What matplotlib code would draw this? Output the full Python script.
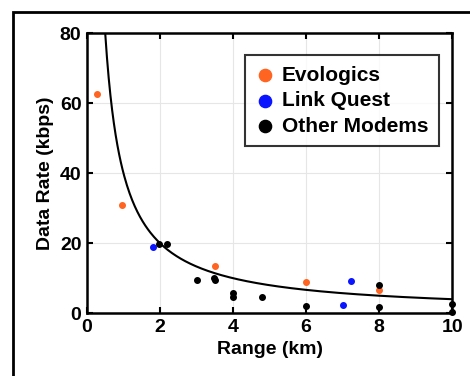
import numpy as np
import matplotlib
matplotlib.use("Agg")
import matplotlib.pyplot as plt
from matplotlib.patches import Rectangle

plt.rcParams['font.family'] = ['Liberation Sans', 'DejaVu Sans']
plt.rcParams['font.weight'] = 'bold'

# Data
evo_x = [0.28, 0.97, 3.5, 6.0, 8.0]
evo_y = [62.5, 31.0, 13.5, 9.0, 6.7]
lq_x = [1.82, 7.22, 7.0]
lq_y = [18.8, 9.2, 2.3]
oth_x = [1.98, 2.18, 3.0, 3.49, 3.5, 4.0, 4.0, 4.8, 6.0, 8.0, 8.0, 10.0, 10.0]
oth_y = [19.7, 19.9, 9.6, 10.0, 9.5, 5.8, 4.7, 4.7, 2.0, 8.0, 1.7, 2.5, 0.3]
fit_a = 40.0  # fitted curve: rate = a / range
xticks = [0, 2, 4, 6, 8, 10]
yticks = [0, 20, 40, 60, 80]

fig = plt.figure(figsize=(4.7, 3.76), dpi=100)
ax = fig.add_axes([0.185, 0.167, 0.777, 0.745])

xc = np.linspace(0.5, 10, 400)
ax.plot(xc, fit_a / xc, color='black', lw=1.5, zorder=3)

ms = 16
ax.scatter(evo_x, evo_y, s=ms, color='#ff6420', label='Evologics', zorder=4, clip_on=False)
ax.scatter(lq_x, lq_y, s=ms, color='#0a14ff', label='Link Quest', zorder=4, clip_on=False)
ax.scatter(oth_x, oth_y, s=ms, color='black', label='Other Modems', zorder=4, clip_on=False)

ax.set_xlim(0, 10)
ax.set_ylim(0, 80)
ax.set_xticks(xticks)
ax.set_yticks(yticks)
ax.tick_params(direction='in', top=True, right=True, labelsize=14, width=1.5, length=4, pad=4)
for lab in ax.get_xticklabels() + ax.get_yticklabels():
    lab.set_fontweight('bold')
ax.grid(True, color='#e6e6e6', lw=0.8)
ax.set_axisbelow(True)
for sp in ax.spines.values():
    sp.set_linewidth(1.8)

ax.set_xlabel('Range (km)', fontsize=14, fontweight='bold', labelpad=4)
ax.set_ylabel('Data Rate (kbps)', fontsize=14, fontweight='bold', labelpad=4)

leg = ax.legend(loc='upper right', bbox_to_anchor=(0.964, 0.921), borderaxespad=0,
                frameon=True, fancybox=False, edgecolor='black', markerscale=2.2,
                handletextpad=0.3, borderpad=0.5, labelspacing=0.32, handlelength=1.0,
                prop={'weight': 'bold', 'size': 15})
leg.get_frame().set_linewidth(1.5)
for t in leg.get_texts():
    t.set_fontweight('bold')

fig.patches.append(Rectangle((13/470, -0.1), 1.2, (376 - 12) / 376 + 0.1,
                             transform=fig.transFigure, fill=False, ec='black', lw=2))

fig.savefig('out.png', dpi=100)
